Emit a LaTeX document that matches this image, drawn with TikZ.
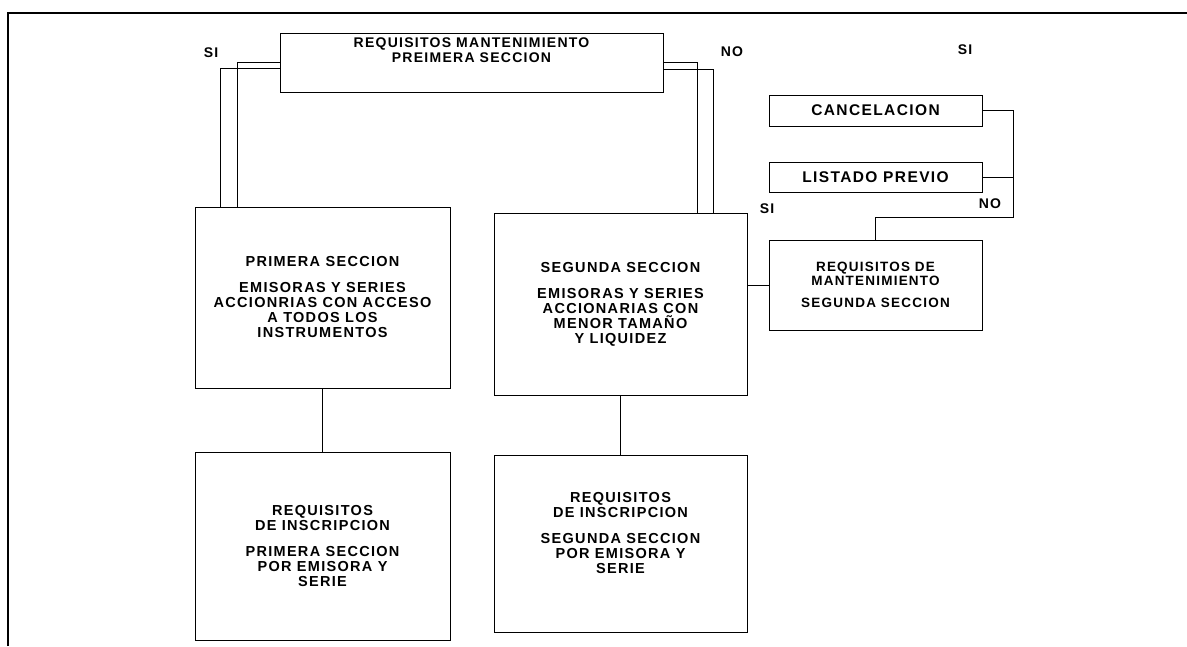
\documentclass[tikz,border=0pt]{standalone}
\usepackage{fontspec}
\setmainfont{Liberation Sans}[LetterSpace=9]
\usetikzlibrary{calc}
\tikzstyle{secbox}=[draw,line width=0.9pt,align=center,inner sep=0pt,font=\bfseries\fontsize{14.5}{15}\selectfont]
\tikzstyle{smallbox}=[secbox,font=\bfseries\fontsize{15.5}{17}\selectfont]
\tikzstyle{mantbox}=[secbox,font=\bfseries\fontsize{13.5}{14}\selectfont]
\tikzstyle{link}=[draw,line width=0.8pt]
\tikzstyle{answer}=[font=\bfseries\fontsize{14}{15}\selectfont]

\begin{document}
\begin{tikzpicture}[x=1pt,y=-1pt]
    \useasboundingbox (0,0) rectangle (1187,646);
    % marco
    \draw[line width=2.6pt] (8,646) -- (8,13) -- (1187,13);

    \node[secbox,minimum width=383pt,minimum height=59pt] (reqmant1) at (471.5,62.5) {};
    \node[secbox,draw=none,anchor=north,font=\bfseries\fontsize{14}{15}\selectfont] (reqmant1txt) at (471.5,37.5) {REQUISITOS MANTENIMIENTO\\PREIMERA SECCION};

    \node[secbox,minimum width=255pt,minimum height=181pt] (primera) at (322.5,297.5) {PRIMERA SECCION\\[11pt]EMISORAS Y SERIES\\ACCIONRIAS CON ACCESO\\A TODOS LOS\\INSTRUMENTOS};
    \node[secbox,minimum width=253pt,minimum height=182pt] (segunda) at (620.5,304) {SEGUNDA SECCION\\[11pt]EMISORAS Y SERIES\\ACCIONARIAS CON\\MENOR TAMAÑO\\Y LIQUIDEZ};
    \node[secbox,minimum width=255pt,minimum height=188pt] (inscr1) at (322.5,546) {REQUISITOS\\DE INSCRIPCION\\[11pt]PRIMERA SECCION\\POR EMISORA Y\\SERIE};
    \node[secbox,minimum width=253pt,minimum height=177pt] (inscr2) at (620.5,543.5) {REQUISITOS\\DE INSCRIPCION\\[11pt]SEGUNDA SECCION\\POR EMISORA Y\\SERIE\\[6pt]};

    \node[smallbox,minimum width=213pt,minimum height=31pt] (cancel) at (875.5,110.5) {CANCELACION};
    \node[smallbox,minimum width=213pt,minimum height=30pt] (listado) at (875.5,177) {LISTADO PREVIO};
    \node[mantbox,minimum width=213pt,minimum height=90pt] (reqmant2) at (875.5,285) {REQUISITOS DE\\MANTENIMIENTO\\[8pt]SEGUNDA SECCION};

    % lineas dobles de la primera seccion
    \draw[link] (reqmant1.west) -| (237,0 |- primera.north);
    \draw[link] (reqmant1.west |- 0,68) -| (220,0 |- primera.north);
    \draw[link] (reqmant1.east) -| (697,0 |- segunda.north);
    \draw[link] (reqmant1.east |- 0,69) -| (713,0 |- segunda.north);

    \draw[link] (primera) -- (inscr1);
    \draw[link] (segunda) -- (inscr2);
    \draw[link] (segunda.east |- reqmant2.west) -- (reqmant2.west);

    \coordinate (cruce) at (1013,217);
    \draw[link] (cancel.east) -| (cruce) -| (reqmant2.north);
    \draw[link] (listado.east) -- (listado.east -| cruce);

    \foreach \pos/ \name/ \txt in {{(211,53)/siuno/SI}, {(732,52)/nouno/NO}, {(965,50)/sidos/SI}, {(767,209)/sitres/SI}, {(990,204)/nodos/NO}}
        \node[answer] (\name) at \pos {\txt};
\end{tikzpicture}
\end{document}
